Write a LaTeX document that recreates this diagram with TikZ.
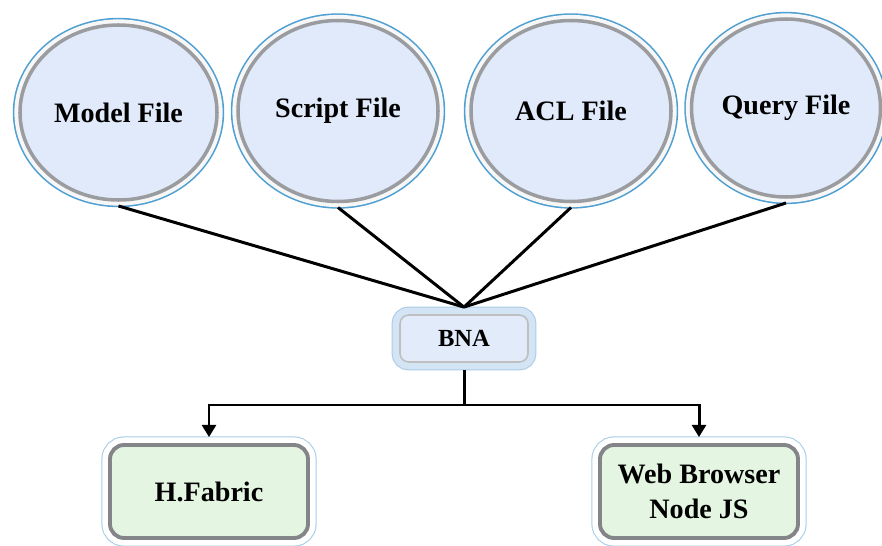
\documentclass[tikz,border=0pt]{standalone}
\usepackage{fontspec}
\setmainfont{Liberation Serif}
\usetikzlibrary{shapes}
\usetikzlibrary{positioning}
\usetikzlibrary{arrows.meta}
\definecolor{filefill}{HTML}{E1EAFA}
\definecolor{filerim}{HTML}{4E9FD2}
\definecolor{ringgray}{HTML}{9A9CA0}
\definecolor{bnafill}{HTML}{E2EBFA}
\definecolor{bnaglow}{HTML}{D3E5F5}
\definecolor{bnarim}{HTML}{A9CBE6}
\definecolor{boxfill}{HTML}{E4F6E2}
\definecolor{boxrim}{HTML}{A6CDE8}
\tikzset{
    myfile/.style = {ellipse, inner sep=0pt, outer sep=3.4pt, align=center, fill=filefill, draw=ringgray, line width=2pt, preaction={draw=filerim, line width=8.2pt}, preaction={draw=gray!6, line width=6.4pt}, font=\fontsize{16}{19}\selectfont\bfseries},
    mybna/.style = {rectangle, rounded corners=5pt, inner sep=0pt, outer sep=4.5pt, align=center, fill=bnafill, draw=gray!50, line width=0.9pt, preaction={draw=bnarim, line width=9.6pt}, preaction={draw=bnaglow, line width=8.4pt}, minimum width=2.56cm, minimum height=0.94cm, font=\fontsize{14}{17}\selectfont\bfseries},
    mybox/.style = {rectangle, rounded corners=8pt, inner sep=0pt, outer sep=4.5pt, align=center, fill=boxfill, draw=ringgray!85!black, line width=2.2pt, preaction={draw=boxrim, line width=9.8pt}, preaction={draw=white, line width=8.6pt}, minimum width=3.96cm, minimum height=1.86cm, font=\fontsize{16}{19.5}\selectfont\bfseries},
    edgen/.style = {-,line width=1.7pt,black},
    edgea/.style = {-{Triangle[length=7pt,width=8pt]},line width=1.7pt,black}
}
\begin{document}
\begin{tikzpicture}
  \useasboundingbox (0,0) rectangle (17.64,10.9);
  \clip (0,0) rectangle (17.64,10.9);

  % source files
  \node[myfile, minimum width=3.94cm, minimum height=3.5cm] (model) at (2.37,8.65) {Model File};
  \node[myfile, minimum width=4.0cm, minimum height=3.62cm] (script) at (6.76,8.68) {Script File};
  \node[myfile, minimum width=4.0cm, minimum height=3.62cm] (acl) at (11.42,8.68) {ACL File};
  \node[myfile, minimum width=3.78cm, minimum height=3.56cm] (query) at (15.72,8.74) {Query File};

  \node[mybna] (bna) at (9.28,4.13) {BNA};

  \node[mybox] (fabric) at (4.18,1.07) {H.Fabric};
  \node[mybox] (browser) at (13.98,1.07) {Web Browser\\Node JS};

  \coordinate (split) at (9.28,2.8);

  \draw[edgen] (model.south) -- (bna.north);
  \draw[edgen] (script.south) -- (bna.north);
  \draw[edgen] (acl.south) -- (bna.north);
  \draw[edgen] (query.south) -- (bna.north);

  \draw[edgen] (bna.south) -- (split);
  \draw[edgea] (split) -| (fabric.north);
  \draw[edgea] (split) -| (browser.north);

\end{tikzpicture}
\end{document}
